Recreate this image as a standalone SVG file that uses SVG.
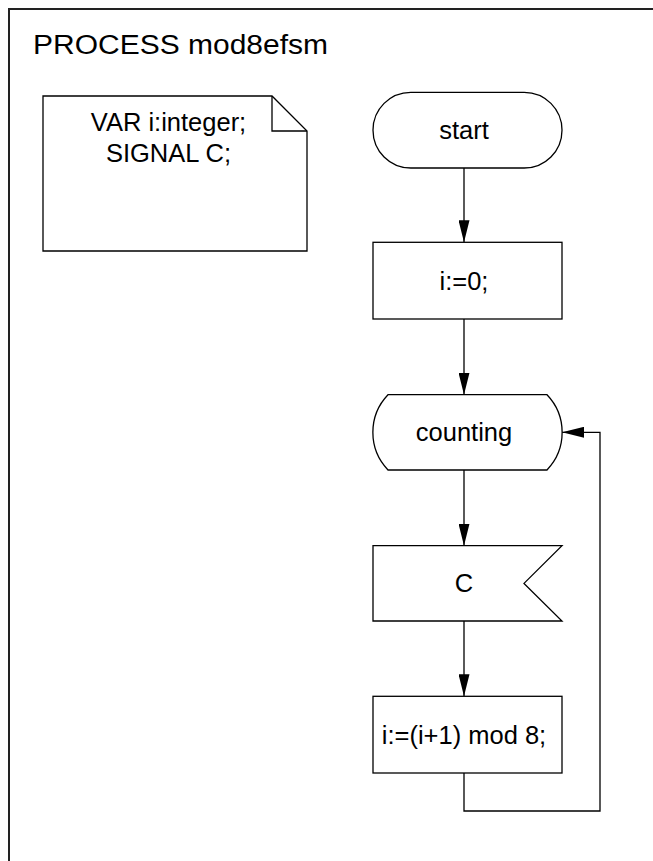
<svg xmlns="http://www.w3.org/2000/svg" width="653" height="861" viewBox="0 0 653 861">
<style>
.shape{fill:#fff;stroke:#000;stroke-width:1.3}
.lbl{font-family:"Liberation Sans",Arial,sans-serif;font-size:25.5px;fill:#000;text-anchor:middle}
.conn{fill:none;stroke:#000;stroke-width:1.3}
</style>
<defs>
<marker id="arr" viewBox="0 0 22 11" refX="22" refY="5.5" markerWidth="22" markerHeight="11" markerUnits="userSpaceOnUse" orient="auto">
<path d="M0,0 L22,5.5 L0,11 Z" fill="#000"/>
</marker>
</defs>
<rect width="653" height="861" fill="#fff"/>
<g id="frame">
<path d="M9,870 V9 H670" fill="none" stroke="#222" stroke-width="2"/>
<text x="33" y="54" font-family="Liberation Sans, Arial, sans-serif" font-size="27" textLength="295" lengthAdjust="spacingAndGlyphs">PROCESS mod8efsm</text>
</g>
<g id="note">
<path class="shape" d="M43,96 H272 L307,131 V251 H43 Z"/>
<path class="conn" d="M272,96 V131 H307"/>
<text class="lbl" x="168.5" y="131">VAR i:integer;</text>
<text class="lbl" x="168.5" y="162">SIGNAL C;</text>
</g>
<g id="connectors">
<path class="conn" d="M464,168 V242.3" marker-end="url(#arr)"/>
<path class="conn" d="M464,319 V394.7" marker-end="url(#arr)"/>
<path class="conn" d="M464,470 V545.7" marker-end="url(#arr)"/>
<path class="conn" d="M464,621 V696.3" marker-end="url(#arr)"/>
<path class="conn" d="M464,773 V811 H600 V432.3 H562" marker-end="url(#arr)"/>
</g>
<g id="start">
<rect class="shape" x="373" y="92.3" width="189" height="75.7" rx="37.8"/>
<text class="lbl" x="464" y="138.8">start</text>
</g>
<g id="init">
<rect class="shape" x="373" y="242.3" width="189" height="76.7"/>
<text class="lbl" x="464" y="290">i:=0;</text>
</g>
<g id="counting">
<path class="shape" d="M388,394.7 H547 A54.4,54.4 0 0 1 547,470 H388 A54.4,54.4 0 0 1 388,394.7 Z"/>
<text class="lbl" x="464" y="441">counting</text>
</g>
<g id="signalC">
<path class="shape" d="M373,545.7 H562 L524,583.4 L562,621 H373 Z"/>
<text class="lbl" x="464" y="592">C</text>
</g>
<g id="increment">
<rect class="shape" x="373" y="696.3" width="189" height="76.7"/>
<text class="lbl" x="464" y="743.5">i:=(i+1) mod 8;</text>
</g>
</svg>
